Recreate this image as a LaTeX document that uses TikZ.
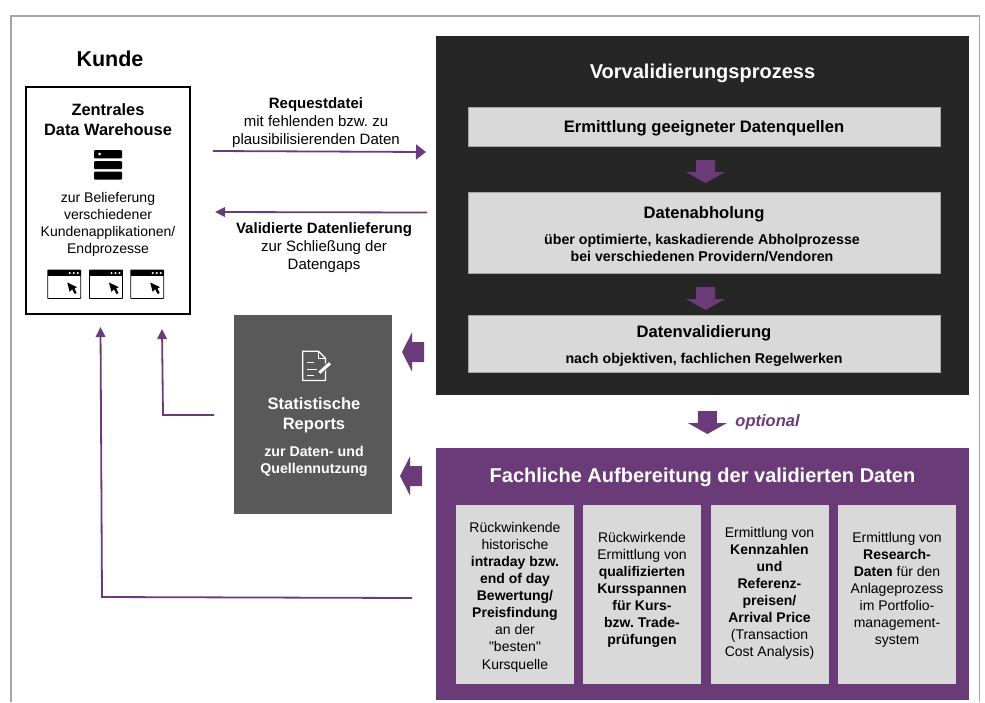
\documentclass[tikz,border=0pt]{standalone}
\usepackage{fontspec}
\setmainfont{Liberation Sans}
\newfontfamily\plainfont{Liberation Sans}
\usetikzlibrary{arrows.meta}
\definecolor{lila}{HTML}{6B3A78}
\definecolor{nacht}{HTML}{262626}
\definecolor{schiefer}{HTML}{595959}
\definecolor{hell}{HTML}{D9D9D9}
\definecolor{rahmen}{HTML}{A6A6A6}
\newcommand{\fs}[2]{\fontsize{#1}{#2}\selectfont\frenchspacing}
\tikzset{
  panel/.style={rectangle,inner sep=0pt,outer sep=0pt},
  lightbox/.style={panel,fill=hell,draw=rahmen,line width=0.5pt},
  txt/.style={inner sep=0pt,outer sep=0pt,align=center,text=black},
  wtxt/.style={txt,text=white},
  body/.style={font=\fs{14}{17.1}},
  bodyb/.style={font=\fs{14.2}{17}\bfseries},
  head/.style={font=\fs{16.6}{20}\bfseries},
  flow/.style={draw=lila,line width=1.8pt},
  smalltip/.style={-{Triangle[length=10pt,width=9.5pt]}},
  bigtip/.style={-{Triangle[length=10pt,width=15pt]}},
  blockarrow/.style={fill=lila,draw=none},
  winframe/.style={draw=black,line width=0.9pt,fill=white,rounded corners=0.6pt},
}
\newcommand{\blockdown}[2]{\fill[blockarrow,shift={(#1,#2)}] (-9.5,0) -- (9.5,0) -- (9.5,12) -- (19.5,12) -- (0,23) -- (-19.5,12) -- (-9.5,12) -- cycle;}
\newcommand{\blockleft}[2]{\fill[blockarrow,shift={(#1,#2)}] (0,-10) -- (0,10) -- (-12,10) -- (-12,19.5) -- (-22,0) -- (-12,-19.5) -- (-12,-10) -- cycle;}
\newcommand{\winicon}[1]{%
  \begin{scope}[shift={(#1,270)}]
    \draw[winframe] (0,0) rectangle (33,28.5);
    \fill[black] (0,0) rectangle (33,6);
    \fill[white] (22,3) circle (1.1) (26,3) circle (1.1) (30,3) circle (1.1);
    \fill[black] (19.5,12.5) -- (22,21.8) -- (24.4,19.2) -- (27,24) -- (29,23) -- (26.7,18.4) -- (29.4,17.2) -- cycle;
  \end{scope}}
\begin{document}
\begin{tikzpicture}[x=1pt,y=-1pt]
\useasboundingbox (0,0) rectangle (985,702);
\fill[white] (0,0) rectangle (985,702);
% outer frame
\draw[rahmen,line width=1.4pt] (11,702) -- (11,16) -- (979.7,16) -- (979.7,702);

% Kunde
\node[txt,font=\fs{21.5}{24}\bfseries] (kunde) at (110,59) {Kunde};
\node[panel,draw=black,line width=1.4pt,minimum width=164pt,minimum height=227pt,fill=white] (dwh) at (108,200.5) {};
\node[txt,font=\fs{16.4}{20}\bfseries] (dwhtitle) at (108,119.5) {Zentrales\\Data Warehouse};
\fill[black,rounded corners=1pt] (94,150) rectangle (122,158.3) (94,161) rectangle (122,169) (94,171.5) rectangle (122,179.5);
\fill[white] (99.7,154) circle (1.5);
\node[txt,font=\fs{14}{17}] (dwhtext) at (108,224.5) {zur Belieferung\\verschiedener\\Kundenapplikationen/\\Endprozesse};
\winicon{47.7}
\winicon{89.5}
\winicon{130.7}

% dark panel
\node[panel,fill=nacht,minimum width=533pt,minimum height=359pt] (vor) at (702.5,215.5) {};
\node[wtxt,font=\fs{20}{24}\bfseries] (vortitle) at (702.5,73) {Vorvalidierungsprozess};
\node[lightbox,minimum width=472pt,minimum height=39pt] (quellen) at (704,126.5) {};
\node[txt,font=\fs{16.6}{20}\bfseries] at (704,128.5) (quellentxt) {Ermittlung geeigneter Datenquellen};
\node[lightbox,minimum width=472pt,minimum height=81pt] (abholung) at (704,232.5) {};
\node[txt,head] (abholtitle) at (704,214) {Datenabholung};
\node[txt,bodyb] (abholtxt) at (702,247.5) {über optimierte, kaskadierende Abholprozesse\\bei verschiedenen Providern/Vendoren};
\node[lightbox,minimum width=472pt,minimum height=57pt] (valid) at (704,343.5) {};
\node[txt,head] (validtitle) at (704,333) {Datenvalidierung};
\node[txt,bodyb] (validtxt) at (704,359.5) {nach objektiven, fachlichen Regelwerken};
\blockdown{705.6}{160}
\blockdown{705.6}{287}

% optional
\blockdown{707.4}{411}
\node[txt,text=lila,font=\fs{16.5}{20}\bfseries\itshape] (opt) at (767.5,422) {optional};

% purple panel
\node[panel,fill=lila,minimum width=533pt,minimum height=252pt] (fach) at (702.5,574) {};
\node[wtxt,font=\fs{20}{24}\bfseries] (fachtitle) at (702.5,477) {Fachliche Aufbereitung der validierten Daten};
\node[lightbox,draw=none,minimum width=118pt,minimum height=179pt] (b1) at (515,594.5) {};
\node[lightbox,draw=none,minimum width=118pt,minimum height=179pt] (b2) at (642,594.5) {};
\node[lightbox,draw=none,minimum width=118pt,minimum height=179pt] (b3) at (769.5,594.5) {};
\node[lightbox,draw=none,minimum width=118pt,minimum height=179pt] (b4) at (897,594.5) {};
\node[txt,body] (t1) at (515,597) {Rückwinkende\\historische\\\textbf{intraday bzw.}\\\textbf{end of day}\\\textbf{Bewertung/}\\\textbf{Preisfindung}\\an der\\{\plainfont"besten"}\\Kursquelle};
\node[txt,body] (t2) at (642,590) {Rückwirkende\\Ermittlung von\\\textbf{qualifizierten}\\\textbf{Kursspannen}\\\textbf{für Kurs-}\\\textbf{bzw. Trade-}\\\textbf{prüfungen}};
\node[txt,body] (t3) at (769.5,593.5) {Ermittlung von\\\textbf{Kennzahlen}\\\textbf{und}\\\textbf{Referenz-}\\\textbf{preisen/}\\\textbf{Arrival Price}\\(Transaction\\Cost Analysis)};
\node[txt,body] (t4) at (897,590) {Ermittlung von\\\textbf{Research-}\\\textbf{Daten} für den\\Anlageprozess\\im Portfolio-\\management-\\system};

% reports
\node[panel,fill=schiefer,minimum width=158pt,minimum height=199pt] (rep) at (313,414.5) {};
\draw[white,line width=1.3pt,line join=miter] (302.8,351.3) -- (318.5,351.3) -- (325.5,358.3) -- (325.5,380.4) -- (302.8,380.4) -- cycle;
\draw[white,line width=0.9pt] (318.5,351.3) -- (318.5,358.3) -- (325.5,358.3);
\draw[white,line width=1pt] (307,362.5) -- (314,362.5) (307,369.3) -- (317,369.3) (307,375.7) -- (314,375.7);
\draw[schiefer,line width=5pt] (318.5,373.5) -- (330,362.8);
\draw[white,line width=3pt] (319.3,372.7) -- (330,363.3);
\node[wtxt,font=\fs{16.5}{20}\bfseries] (reptitle) at (314,415) {Statistische\\Reports};
\node[wtxt,font=\fs{14.2}{17}\bfseries] (reptxt) at (314,461.5) {zur Daten- und\\Quellennutzung};
\blockleft{424}{352}
\blockleft{422}{476}

% connector labels
\node[txt,font=\fs{15}{18}] (reqtxt) at (316,123) {\textbf{Requestdatei}\\mit fehlenden bzw. zu\\plausibilisierenden Daten};
\node[txt,font=\fs{15}{18}] (deltxt) at (324,247.5) {\textbf{Validierte Datenlieferung}\\zur Schließung der\\Datengaps};

% connector ends
\coordinate (reqs) at (213,151);
\coordinate (reqe) at (426,152);
\coordinate (dels) at (427,212.5);
\coordinate (dele) at (215,212);
\coordinate (reps) at (214,415);
\coordinate (repc) at (163,415);
\coordinate (repe) at (162,329);
\coordinate (fachs) at (412,598);
\coordinate (fachc) at (102,597);
\coordinate (fache) at (100.5,327);
\draw[flow,bigtip] (reqs) -- (reqe);
\draw[flow,smalltip] (dels) -- (dele);
\draw[flow,smalltip] (reps) -- (repc) -- (repe);
\draw[flow,smalltip] (fachs) -- (fachc) -- (fache);
\end{tikzpicture}
\end{document}
